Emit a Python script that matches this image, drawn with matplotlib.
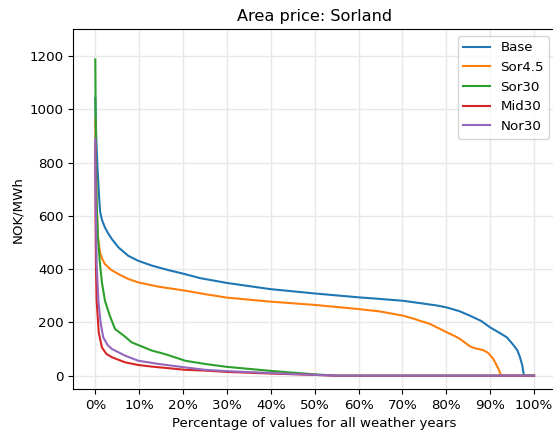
import matplotlib
matplotlib.use("Agg")
import matplotlib.pyplot as plt
from matplotlib.ticker import PercentFormatter, MultipleLocator

plt.rcParams["font.size"] = 9.65

# Duration curves of the area price (sorted, share of all weather-year hours)
base_x = [0, 0.1, 0.3, 0.5, 0.7, 0.9, 1.1, 1.5, 2.2, 3.0, 3.8, 5.3, 7.5, 9.8, 12.9,
          16.7, 20, 23.9, 30, 39.8, 49.7, 60, 64.9, 70.2, 75, 78, 80.1, 83, 85.4,
          88, 90, 92, 93.8, 95.3, 96.2, 96.8, 97.3, 97.7, 100]
base_y = [1042, 950, 856, 780, 720, 660, 615, 585, 556, 532, 512, 481, 450, 431, 413,
          396, 383, 366, 348, 325, 309, 294, 288, 281, 270, 263, 256, 242, 225,
          205, 181, 162, 144, 115, 95, 69, 40, 0, 0]

sor45_x = [0, 0.1, 0.3, 0.6, 1.1, 1.6, 2.2, 3.5, 5.3, 7.5, 9.8, 14.4, 20.5, 25, 30,
           39.8, 49.7, 60, 64.9, 70.2, 72.5, 76.3, 78, 80.1, 82, 83.1, 85.4, 86.5,
           88.4, 89.5, 90.7, 91.9, 92.5, 100]
sor45_y = [962, 800, 640, 520, 460, 437, 419, 398, 381, 363, 350, 334, 319, 306, 293,
           278, 266, 250, 241, 225, 214, 194, 180, 163, 148, 138, 110, 103,
           96, 86, 63, 25, 0, 0]

sor30_x = [0, 0.1, 0.3, 0.6, 1.0, 1.5, 2.2, 3.3, 4.5, 6.5, 8.3, 12.9, 15.9, 20.5,
           25, 30, 40, 50, 55, 100]
sor30_y = [1187, 900, 650, 520, 430, 350, 281, 225, 175, 150, 125, 94, 81, 56,
           44, 33, 18, 5, 0, 0]

mid30_x = [0, 0.05, 0.15, 0.3, 0.8, 1.5, 2.5, 3.8, 6.8, 9.8, 12.9, 20.5, 25, 30,
           40, 50, 55, 100]
mid30_y = [870, 600, 400, 281, 160, 106, 82, 69, 50, 40, 34, 22, 19, 14,
           8, 3, 0, 0]

nor30_x = [0, 0.1, 0.3, 0.7, 1.2, 1.8, 2.8, 3.8, 6.8, 9.8, 14.4, 20.5, 25, 30,
           40, 50, 55, 100]
nor30_y = [889, 650, 420, 281, 200, 144, 115, 100, 75, 56, 44, 31, 22, 17,
           10, 3, 0, 0]

series = [
    ("Base", base_x, base_y),
    ("Sor4.5", sor45_x, sor45_y),
    ("Sor30", sor30_x, sor30_y),
    ("Mid30", mid30_x, mid30_y),
    ("Nor30", nor30_x, nor30_y),
]

fig = plt.figure(figsize=(5.53, 4.34), dpi=100)
ax = fig.add_axes([0.1327, 0.1037, 0.8727, 0.8288])

for name, xs, ys in series:
    ax.plot(xs, ys, label=name, linewidth=1.5)

ax.set_xlim(-5, 105)
ax.set_ylim(-50, 1300)
ax.xaxis.set_major_locator(MultipleLocator(10))
ax.xaxis.set_major_formatter(PercentFormatter(100, decimals=0))
ax.grid(True, color="#e8e8e8", linewidth=1)
ax.set_axisbelow(True)

ax.set_title("Area price: Sorland")
ax.set_xlabel("Percentage of values for all weather years")
ax.set_ylabel("NOK/MWh")
ax.legend(loc="upper right")

fig.savefig("out.png", dpi=100)
